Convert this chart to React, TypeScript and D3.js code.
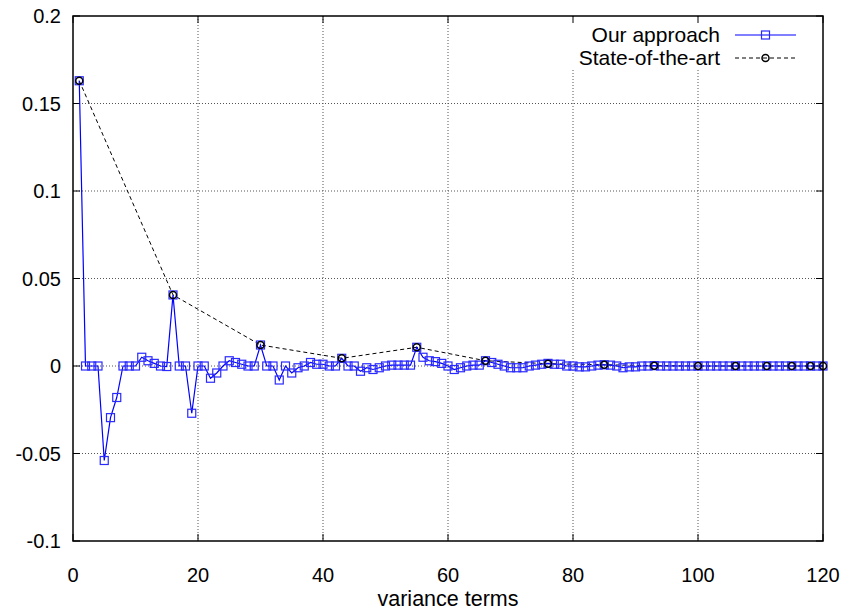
import React from "react";
import * as d3 from "d3";

const ourX: number[] = d3.range(1, 121);
const ourY: number[] = [
  0.163, 0, 0, 0, -0.054, -0.0295, -0.018, 0, 0, 0,
  0.005, 0.003, 0.0015, 0, -0.0003, 0.0406, 0, 0, -0.027, 0,
  0, -0.007, -0.004, 0, 0.003, 0.002, 0.001, 0, 0, 0.012,
  0, 0, -0.008, 0, -0.004, -0.001, 0, 0.002, 0.001, 0.001,
  0, 0, 0.0044, 0, 0, -0.003, -0.001, -0.002, -0.001, 0,
  0.0005, 0.0005, 0.0005, 0.0005, 0.0107, 0.005, 0.003, 0.0025, 0.0015, 0,
  -0.002, -0.001, 0, 0.0005, 0.0005, 0.003, 0.002, 0.001, 0, -0.001,
  -0.001, -0.001, 0, 0.0005, 0.001, 0.0015, 0.001, 0.001, 0, 0,
  -0.0005, -0.0005, 0, 0.0005, 0.0007, 0.0005, 0, -0.001, -0.0005, -0.0005,
  0, 0, 0.0002, 0, 0, 0, 0, 0, 0, 0,
  0, 0, 0, 0, 0, 0, 0, 0, 0, 0,
  0, 0, 0, 0, 0, 0, 0, 0, 0, 0,
];
const sotaX: number[] = [1, 16, 30, 43, 55, 66, 76, 85, 93, 100, 106, 111, 115, 118, 120];
const sotaY: number[] = [0.163, 0.0406, 0.012, 0.0044, 0.0107, 0.003, 0.0013, 0.0007, 0.0002, 0, 0, 0, 0, 0, 0];
const xTicks: number[] = [0, 20, 40, 60, 80, 100, 120];
const yTicks: number[] = [-0.1, -0.05, 0, 0.05, 0.1, 0.15, 0.2];
const yTickLabels: string[] = ["-0.1", "-0.05", "0", "0.05", "0.1", "0.15", "0.2"];
const seriesNames: string[] = ["Our approach", "State-of-the-art"];
const xLabel = "variance terms";

const W = 848;
const H = 610;
const L = 73;
const R = 823;
const T = 16;
const B = 541;
const FONT = "'Liberation Sans', Arial, Helvetica, sans-serif";

export default function App() {
  const x = d3.scaleLinear().domain([0, 120]).range([L, R]);
  const y = d3.scaleLinear().domain([-0.1, 0.2]).range([B, T]);
  const ourPts: [number, number][] = ourX.map((v, i) => [v, ourY[i]]);
  const sotaPts: [number, number][] = sotaX.map((v, i) => [v, sotaY[i]]);
  const line = d3
    .line<[number, number]>()
    .x((d) => x(d[0]))
    .y((d) => y(d[1]));
  const tick = 7;
  const sq = 8;
  const cr = 3.5;
  const ly1 = 35;
  const ly2 = 58;
  return (
    <svg
      width={W}
      height={H}
      style={{ position: "absolute", left: 0, top: 0, background: "#fff" }}
      fontFamily={FONT}
    >
      <rect x={0} y={0} width={W} height={H} fill="#fff" />
      {/* grid */}
      <g stroke="#555" strokeWidth={1} strokeDasharray="1,2">
        {xTicks.slice(1, -1).map((t) => (
          <line key={"gx" + t} x1={x(t)} x2={x(t)} y1={T} y2={B} />
        ))}
        {yTicks.slice(1, -1).map((t) => (
          <line key={"gy" + t} x1={L} x2={R} y1={y(t)} y2={y(t)} />
        ))}
      </g>
      {/* legend background */}
      <rect x={560} y={T + 1} width={R - 561} height={53} fill="#fff" />
      {/* ticks */}
      <g stroke="#000" strokeWidth={1}>
        {xTicks.map((t) => (
          <g key={"tx" + t}>
            <line x1={x(t)} x2={x(t)} y1={B} y2={B - tick} />
            <line x1={x(t)} x2={x(t)} y1={T} y2={T + tick} />
          </g>
        ))}
        {yTicks.map((t) => (
          <g key={"ty" + t}>
            <line x1={L} x2={L + tick} y1={y(t)} y2={y(t)} />
            <line x1={R} x2={R - tick} y1={y(t)} y2={y(t)} />
          </g>
        ))}
      </g>
      {/* tick labels */}
      <g fontSize={20} fill="#000">
        {yTicks.map((t, i) => (
          <text key={"ly" + t} x={L - 12} y={y(t)} dy="0.35em" textAnchor="end">
            {yTickLabels[i]}
          </text>
        ))}
        {xTicks.map((t) => (
          <text key={"lx" + t} x={x(t)} y={B + 41} textAnchor="middle">
            {t}
          </text>
        ))}
      </g>
      <text x={(L + R) / 2} y={B + 65} textAnchor="middle" fontSize={21.5} fill="#000">
        {xLabel}
      </text>
      {/* SOTA series */}
      <path d={line(sotaPts) || ""} fill="none" stroke="#000" strokeWidth={1} strokeDasharray="4,3" />
      {/* Our series */}
      <path d={line(ourPts) || ""} fill="none" stroke="#0000ff" strokeWidth={1.2} />
      {ourPts.map((d, i) => (
        <rect
          key={"s" + i}
          x={x(d[0]) - sq / 2}
          y={y(d[1]) - sq / 2}
          width={sq}
          height={sq}
          fill="none"
          stroke="#2a2aff"
          strokeWidth={1.2}
        />
      ))}
      {sotaPts.map((d, i) => (
        <circle key={"c" + i} cx={x(d[0])} cy={y(d[1])} r={cr} fill="none" stroke="#000" strokeWidth={1.5} />
      ))}
      {/* legend */}
      <g fontSize={21} fill="#000">
        <text x={720} y={ly1} dy="0.35em" textAnchor="end">
          {seriesNames[0]}
        </text>
        <line x1={735} x2={796} y1={ly1} y2={ly1} stroke="#0000ff" strokeWidth={1.2} />
        <rect x={765.5 - sq / 2} y={ly1 - sq / 2} width={sq} height={sq} fill="none" stroke="#2a2aff" strokeWidth={1.2} />
        <text x={720} y={ly2} dy="0.35em" textAnchor="end">
          {seriesNames[1]}
        </text>
        <line x1={735} x2={796} y1={ly2} y2={ly2} stroke="#000" strokeWidth={1} strokeDasharray="4,3" />
        <circle cx={765.5} cy={ly2} r={cr} fill="none" stroke="#000" strokeWidth={1.5} />
      </g>
      {/* border */}
      <rect x={L} y={T} width={R - L} height={B - T} fill="none" stroke="#000" strokeWidth={1.5} />
    </svg>
  );
}
